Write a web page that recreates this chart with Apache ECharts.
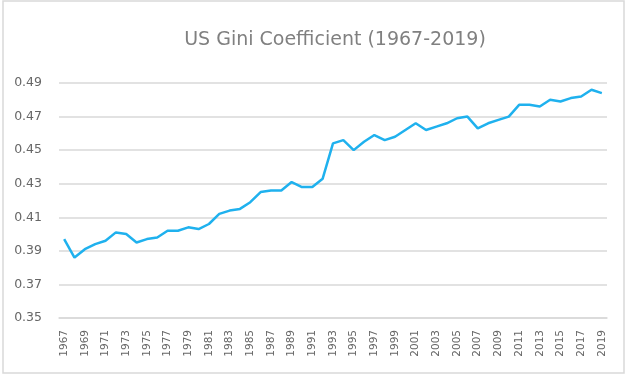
<!DOCTYPE html>
<html>
<head>
<meta charset="utf-8">
<script src="https://cdn.jsdelivr.net/npm/echarts@6/dist/echarts.min.js"></script>
<style>html,body{margin:0;padding:0;background:#fff}#c{width:628px;height:378px}</style>
</head>
<body>
<div id="c"></div>
<script>
var years = [];
for (var y = 1967; y <= 2019; y++) years.push(String(y));
var gini = [0.397,0.386,0.391,0.394,0.396,0.401,0.400,0.395,0.397,0.398,
            0.402,0.402,0.404,0.403,0.406,0.412,0.414,0.415,0.419,0.425,
            0.426,0.426,0.431,0.428,0.428,0.433,0.454,0.456,0.450,0.455,
            0.459,0.456,0.458,0.462,0.466,0.462,0.464,0.466,0.469,0.470,
            0.463,0.466,0.468,0.470,0.477,0.477,0.476,0.480,0.479,0.481,
            0.482,0.486,0.484];
var titleText = 'US Gini Coefficient (1967-2019)';

var chart = echarts.init(document.getElementById('c'), null, {renderer: 'canvas'});
chart.setOption({
  animation: false,
  backgroundColor: '#fff',
  graphic: [{
    type: 'rect', shape: {x: 3, y: 1, width: 621, height: 372},
    style: {fill: 'none', stroke: '#d9d9d9', lineWidth: 1.5}, silent: true
  }],
  title: {
    text: titleText, left: 330, top: 26, textAlign: 'center',
    textStyle: {fontFamily: 'DejaVu Sans', fontWeight: 'normal', fontSize: 19, color: '#808080'}
  },
  grid: {left: 59, right: 21, top: 83, bottom: 60},
  xAxis: {
    type: 'category', data: years, boundaryGap: true,
    axisLine: {show: true, lineStyle: {color: '#d9d9d9', width: 1.5}},
    axisTick: {show: false},
    axisLabel: {interval: 1, rotate: 90, margin: 12, fontSize: 10.5, color: '#666666', fontFamily: 'DejaVu Sans'}
  },
  yAxis: {
    type: 'value', min: 0.35, max: 0.49, interval: 0.02,
    axisLine: {show: false}, axisTick: {show: false},
    splitLine: {lineStyle: {color: '#d9d9d9', width: 1.5}},
    axisLabel: {margin: 17, fontSize: 12.5, color: '#666666', fontFamily: 'DejaVu Sans',
      formatter: function (v) { return v.toFixed(2); }}
  },
  series: [{
    type: 'line', data: gini, showSymbol: false, symbol: 'none',
    lineStyle: {color: '#1fb1ee', width: 2.5}
  }]
});
</script>
</body>
</html>
